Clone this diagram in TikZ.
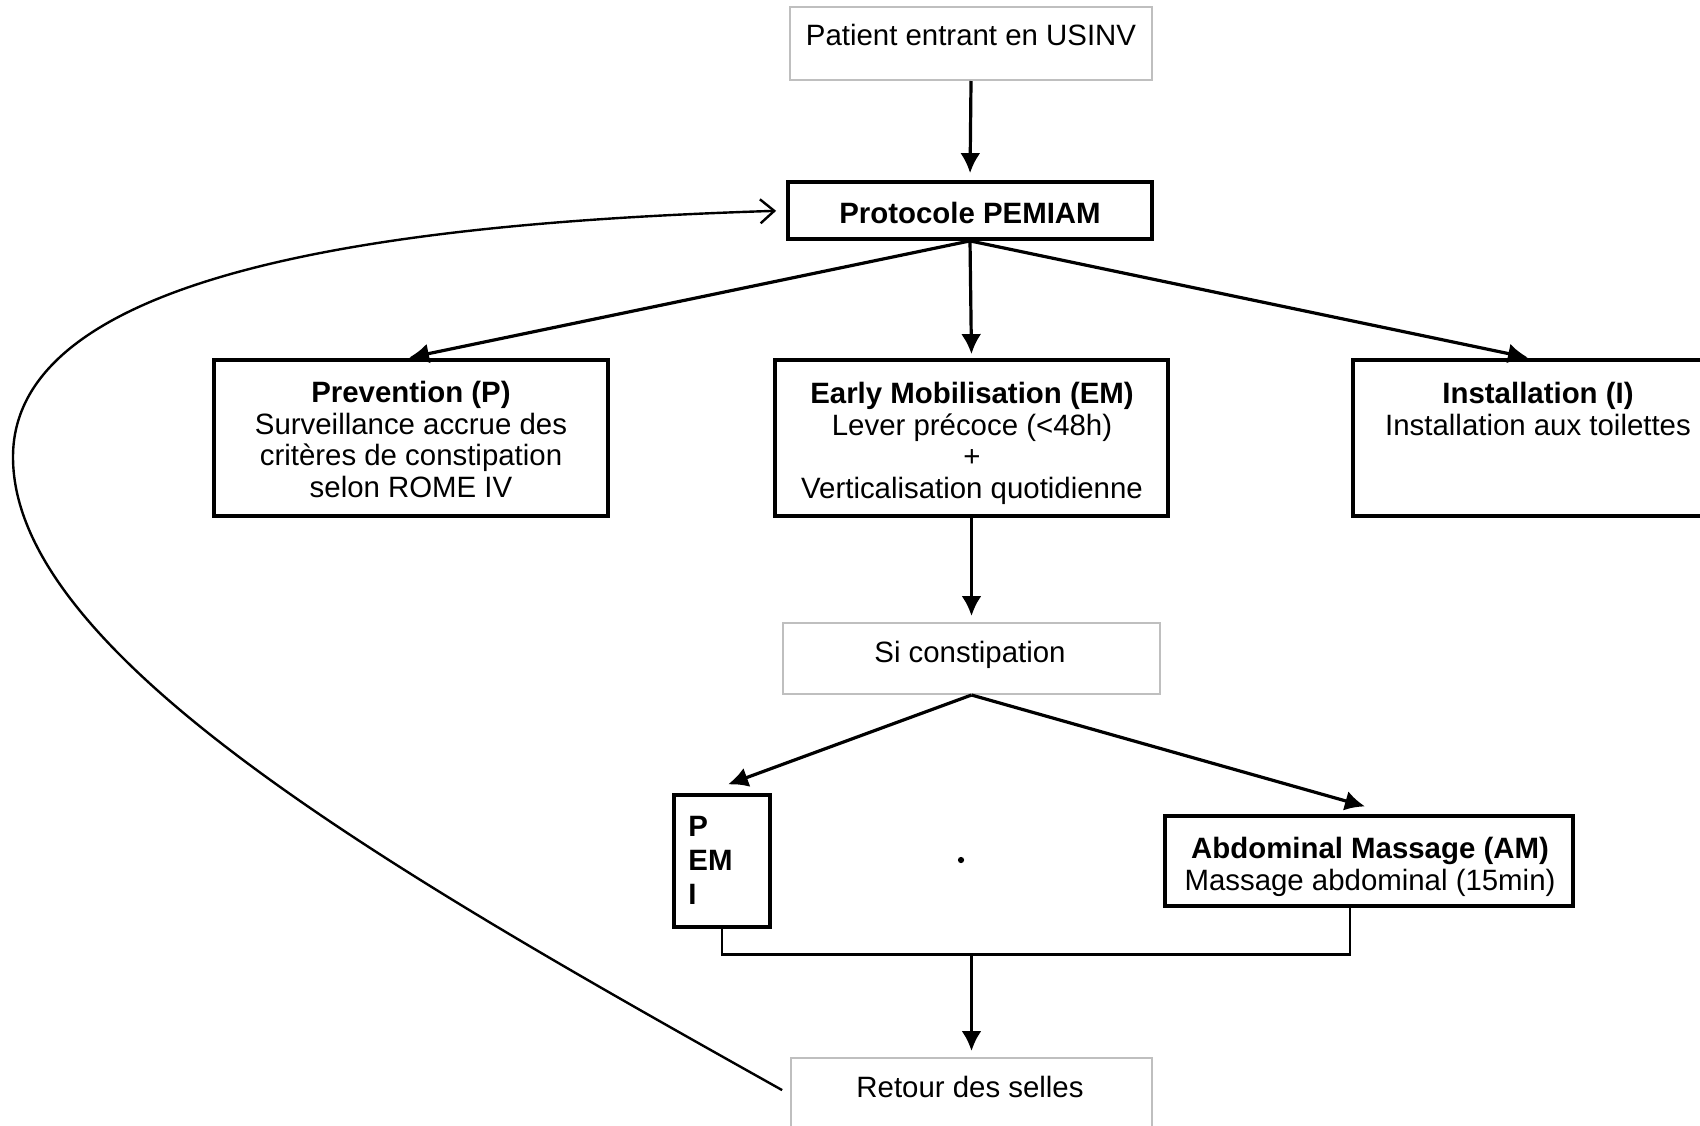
\documentclass[tikz,border=0pt]{standalone}
\usepackage{fontspec}
\setmainfont{Liberation Sans}
\usetikzlibrary{arrows.meta,calc}
\begin{document}
\begin{tikzpicture}[x=0.5pt,y=-0.5pt,
  thickbox/.style={draw=black, line width=1.9pt, fill=white, inner sep=0pt},
  lightbox/.style={draw=black!25, line width=1pt, fill=white, inner sep=0pt},
  txt/.style={font=\fontsize{14.7pt}{15.7pt}\selectfont, inner sep=0pt, align=center, anchor=base},
  flow/.style={line width=1.6pt, -{Latex[length=10pt,width=10pt]}},
  link/.style={line width=1.2pt},
  loopback/.style={line width=1.2pt, -{Straight Barb[length=7pt,width=12pt]}}
]
\clip (0,0) rectangle (1700,1125);
\fill[white] (0,0) rectangle (1700,1125);

% boxes
\node[lightbox, minimum width=181pt, minimum height=36.5pt] (pat) at (971,43.5) {};
\node[thickbox, minimum width=182pt, minimum height=28.5pt] (proto) at (970,210.5) {};
\node[thickbox, minimum width=197pt, minimum height=78pt] (prev) at (411,438) {};
\node[thickbox, minimum width=196.5pt, minimum height=78pt] (em) at (971.5,438) {};
\node[thickbox, minimum width=185pt, minimum height=78pt] (inst) at (1538,438) {};
\node[lightbox, minimum width=188.5pt, minimum height=35.5pt] (sic) at (971.5,658.5) {};
\node[thickbox, line width=1.6pt, minimum width=48pt, minimum height=66pt] (pemi) at (722,861) {};
\node[thickbox, line width=1.6pt, minimum width=204pt, minimum height=45pt] (am) at (1369,861) {};
\node[lightbox, minimum width=180.5pt, minimum height=36.5pt] (ret) at (971.5,1094.5) {};

% texts (base anchor = baseline of the last line)
\node[txt] (patT) at (971,45) {Patient entrant en USINV};
\node[txt] (protoT) at (970,223) {\textbf{Protocole PEMIAM}};
\node[txt] (prevT) at (411,497) {\textbf{Prevention (P)}\\Surveillance accrue des\\critères de constipation\\selon ROME IV};
\node[txt] (emT) at (972,498) {\textbf{Early Mobilisation (EM)}\\Lever précoce (<48h)\\+\\Verticalisation quotidienne};
\node[txt] (instT) at (1538,435) {\textbf{Installation (I)}\\Installation aux toilettes};
\node[txt] (sicT) at (970,662) {Si constipation};
\node[txt, align=left, anchor=base west, font=\fontsize{14.7pt}{16.8pt}\selectfont] (pemiT) at (688,904) {\textbf{P}\\\textbf{EM}\\\textbf{I}};
\node[txt] (amT) at (1370,890) {\textbf{Abdominal Massage (AM)}\\Massage abdominal (15min)};
\node[txt] (retT) at (970,1097) {Retour des selles};

\node[circle, fill=black, inner sep=1.1pt] (dot) at (961,860) {};

% connectors
\draw[flow, shorten >=3.5pt] (pat.south) -- (proto.north);
\draw[flow, shorten >=1pt] (proto.south) -- ($(prev.north)+(-4,0)$);
\draw[flow, shorten >=2pt] (proto.south) -- (em.north);
\draw[flow, shorten >=1pt] (proto.south) -- ($(inst.north)+(-8,0)$);
\draw[flow, shorten >=3pt] (em.south) -- (sic.north);
\draw[flow] (sic.south) -- ($(pemi.north)+(6,-9)$);
\draw[flow] (sic.south) -- ($(am.north)+(-4,-8)$);

\path (pemi.south) ++(0,26) coordinate (pj);
\coordinate (mj) at (pj -| ret.north);
\draw[link] (pemi.south) -- (pj) -| ($(am.south)+(-19,0)$);
\draw[flow, shorten >=3pt] (mj) -- (ret.north);

\draw[loopback, shorten <=4.5pt, shorten >=5pt] (ret.west) .. controls (400,876) and (13,657) .. (13,457)
  .. controls (13,265) and (420,222) .. (proto.west);
\end{tikzpicture}
\end{document}
